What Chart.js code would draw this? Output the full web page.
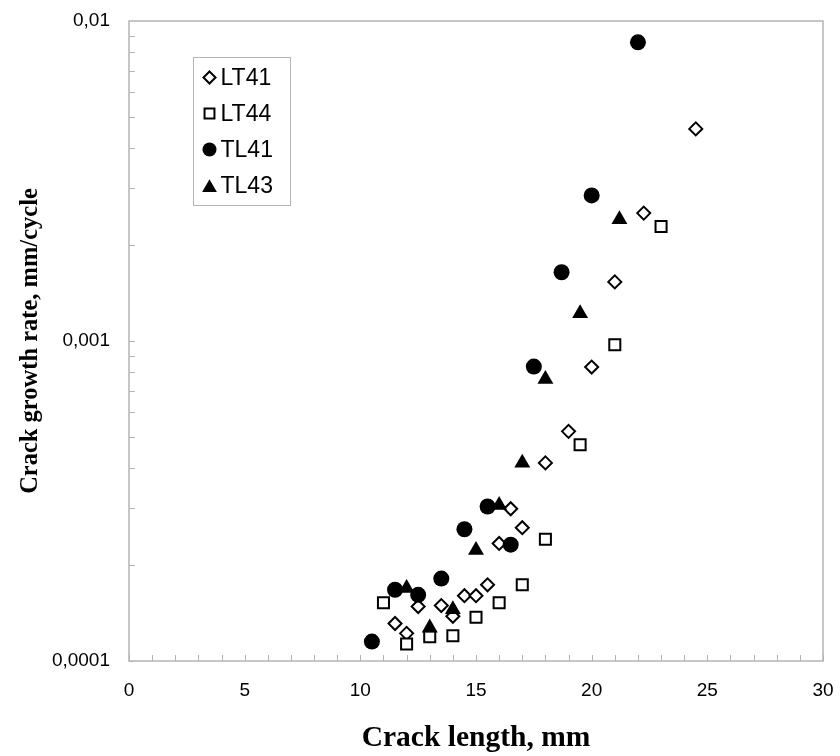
<!DOCTYPE html>
<html>
<head>
<meta charset="utf-8">
<script src="https://cdn.jsdelivr.net/npm/chart.js@4.4.0/dist/chart.umd.min.js"></script>
<style>
  html, body { margin: 0; padding: 0; background: #fff; }
</style>
</head>
<body>
<canvas id="crackGrowth" width="840" height="756"></canvas>
<script>
// crack length (mm) and growth rate (mm/cycle) per specimen
const lt41X = [11.5, 12, 12.5, 13.5, 14, 14.5, 15, 15.5, 16, 16.5, 17, 18, 19, 20, 21, 22.25, 24.5]
const lt41Y = [0.000131, 0.000122, 0.000148, 0.000149, 0.000138, 0.00016, 0.00016, 0.000173, 0.000233, 0.000299, 0.000261, 0.000416, 0.000522, 0.000829, 0.00153, 0.00251, 0.0046]

const lt44X = [11, 12, 13, 14, 15, 16, 17, 18, 19.5, 21, 23]
const lt44Y = [0.000152, 0.000113, 0.000119, 0.00012, 0.000137, 0.000152, 0.000173, 0.00024, 0.000474, 0.000973, 0.00228]

const tl41X = [10.5, 11.5, 12.5, 13.5, 14.5, 15.5, 16.5, 17.5, 18.7, 20, 22]
const tl41Y = [0.000115, 0.000167, 0.000161, 0.000181, 0.000258, 0.000304, 0.000231, 0.000832, 0.00164, 0.00285, 0.00858]

const tl43X = [12, 13, 14, 15, 16, 17, 18, 19.5, 21.2]
const tl43Y = [0.000169, 0.000127, 0.000145, 0.000222, 0.000307, 0.000416, 0.00076, 0.00122, 0.0024]

const xTickStep = 5
const yTickValues = [0.0001, 0.001, 0.01]

function pts(xs, ys) {
  return xs.map(function (x, i) { return {x: x, y: ys[i]} })
}

var frameColor = '#b4b4b4'

// draws a marker shape, used for the legend box
function marker(ctx, style, r, x, y, fill, border) {
  ctx.beginPath()
  if (style === 'circle') {
    ctx.arc(x, y, r, 0, Math.PI * 2)
  } else if (style === 'rect') {
    var s = r * Math.SQRT1_2
    ctx.rect(x - s, y - s, 2 * s, 2 * s)
  } else if (style === 'rectRot') {
    ctx.moveTo(x, y - r); ctx.lineTo(x + r, y); ctx.lineTo(x, y + r); ctx.lineTo(x - r, y)
    ctx.closePath()
  } else if (style === 'triangle') {
    ctx.moveTo(x, y - r * 0.75)
    ctx.lineTo(x + r * 0.866, y + r * 0.75)
    ctx.lineTo(x - r * 0.866, y + r * 0.75)
    ctx.closePath()
  }
  ctx.fillStyle = fill
  ctx.fill()
  if (border > 0) {
    ctx.lineWidth = border
    ctx.strokeStyle = '#000'
    ctx.stroke()
  }
}

var frameAndTicks = {
  id: 'frameAndTicks',
  beforeDatasetsDraw: function (chart) {
    var ctx = chart.ctx
    var a = chart.chartArea
    var xs = chart.scales.x
    var ys = chart.scales.y
    ctx.save()
    ctx.strokeStyle = frameColor
    ctx.lineWidth = 1.5
    ctx.strokeRect(a.left, a.top, a.right - a.left, a.bottom - a.top)
    ctx.lineWidth = 1
    ctx.beginPath()
    for (var v = xs.min; v <= xs.max; v++) {
      var px = Math.round(xs.getPixelForValue(v)) + 0.5
      ctx.moveTo(px, a.bottom)
      ctx.lineTo(px, a.bottom - 6)
    }
    for (var d = 0; d < yTickValues.length - 1; d++) {
      for (var m = 1; m <= 9; m++) {
        var py = Math.round(ys.getPixelForValue(yTickValues[d] * m)) + 0.5
        ctx.moveTo(a.left, py)
        ctx.lineTo(a.left + 6, py)
      }
    }
    ctx.stroke()
    ctx.restore()
  },
  afterDatasetsDraw: function (chart) {
    var ctx = chart.ctx
    var a = chart.chartArea
    var left = a.left + 64.5
    var top = a.top + 36.5
    ctx.save()
    ctx.fillStyle = '#fff'
    ctx.fillRect(left, top, 97, 148)
    ctx.strokeStyle = frameColor
    ctx.lineWidth = 1
    ctx.strokeRect(left, top, 97, 148)
    ctx.font = '23px "Liberation Sans", Arial, sans-serif'
    ctx.textBaseline = 'middle'
    chart.data.datasets.forEach(function (ds, i) {
      var cy = top + 20 + i * 36
      marker(ctx, ds.pointStyle, ds.legendRadius, left + 16, cy, ds.backgroundColor, ds.borderWidth)
      ctx.fillStyle = '#000'
      ctx.fillText(ds.label, left + 27, cy + 1)
    })
    ctx.restore()
  }
}

new Chart(document.getElementById('crackGrowth').getContext('2d'), {
  type: 'scatter',
  data: {
    datasets: [
      {label: 'LT41', data: pts(lt41X, lt41Y), pointStyle: 'rectRot', pointRadius: 6.5, borderWidth: 2,
        backgroundColor: '#fff', borderColor: '#000', legendRadius: 6, order: 4},
      {label: 'LT44', data: pts(lt44X, lt44Y), pointStyle: 'rect', pointRadius: 7.8, borderWidth: 2,
        backgroundColor: '#fff', borderColor: '#000', legendRadius: 7, order: 3},
      {label: 'TL41', data: pts(tl41X, tl41Y), pointStyle: 'circle', pointRadius: 8, borderWidth: 0,
        backgroundColor: '#000', borderColor: '#000', legendRadius: 7, order: 2},
      {label: 'TL43', data: pts(tl43X, tl43Y), pointStyle: 'triangle', pointRadius: 9.2, borderWidth: 0,
        backgroundColor: '#000', borderColor: '#000', legendRadius: 8.5, order: 1}
    ]
  },
  options: {
    responsive: false,
    animation: false,
    events: [],
    layout: {padding: {top: 21, right: 17, left: 0, bottom: 0}},
    plugins: {
      legend: {display: false},
      tooltip: {enabled: false}
    },
    scales: {
      x: {
        type: 'linear',
        min: 0,
        max: 30,
        ticks: {
          stepSize: xTickStep,
          color: '#000',
          padding: 18,
          font: {family: '"Liberation Sans", Arial, sans-serif', size: 19}
        },
        grid: {display: false, drawTicks: false},
        border: {display: false},
        title: {
          display: true,
          text: 'Crack length, mm',
          color: '#000',
          font: {family: '"Liberation Serif", "Times New Roman", serif', size: 29.5, weight: 'bold'},
          padding: {top: 0, bottom: 0}
        },
        afterFit: function (s) {
          s.height = 95
          s.paddingLeft = 0
          s.paddingRight = 0
        }
      },
      y: {
        type: 'logarithmic',
        min: 0.0001,
        max: 0.01,
        afterBuildTicks: function (s) {
          s.ticks = yTickValues.map(function (v) { return {value: v} })
        },
        ticks: {
          color: '#000',
          padding: 19,
          font: {family: '"Liberation Sans", Arial, sans-serif', size: 19},
          callback: function (v) { return String(v).replace('.', ',') }
        },
        grid: {display: false, drawTicks: false},
        border: {display: false},
        title: {
          display: true,
          text: 'Crack growth rate, mm/cycle',
          color: '#000',
          font: {family: '"Liberation Serif", "Times New Roman", serif', size: 24.5, weight: 'bold'},
          padding: {top: 16, bottom: 0}
        },
        afterFit: function (s) {
          s.width = 129
          s.paddingTop = 0
          s.paddingBottom = 0
        }
      }
    }
  },
  plugins: [frameAndTicks]
})
</script>
</body>
</html>
